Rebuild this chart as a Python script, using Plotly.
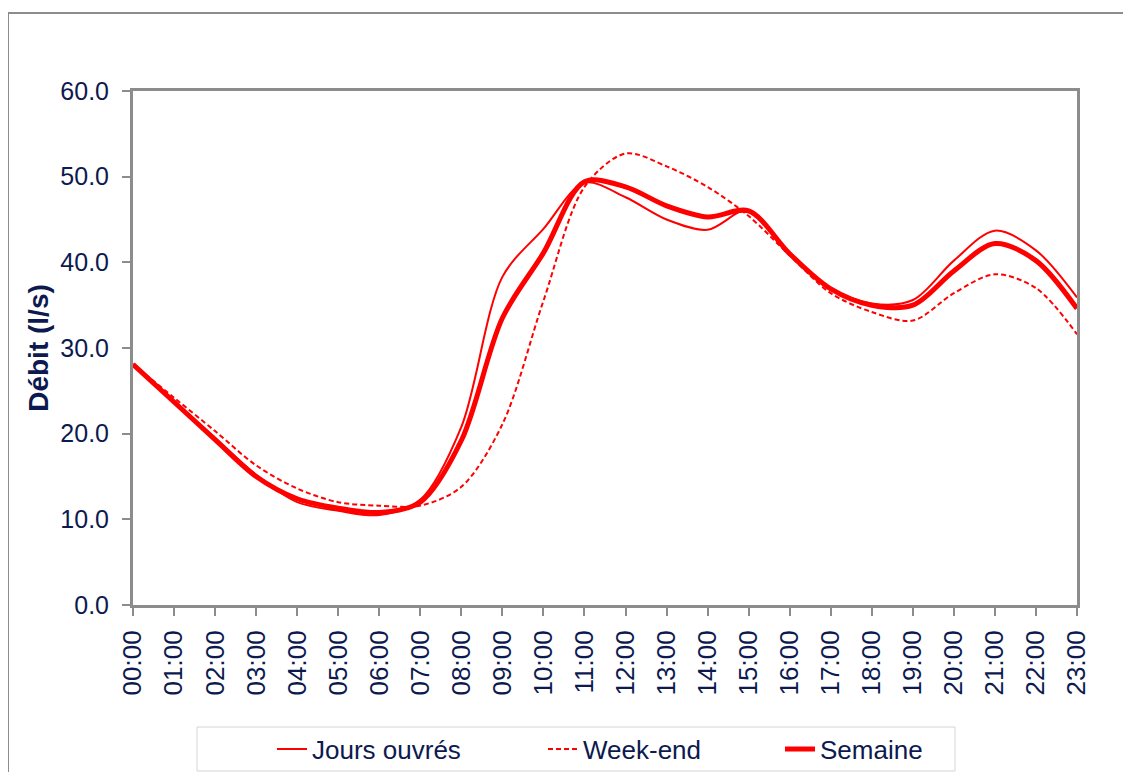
import plotly.graph_objects as go

hours = ["00:00", "01:00", "02:00", "03:00", "04:00", "05:00", "06:00", "07:00",
         "08:00", "09:00", "10:00", "11:00", "12:00", "13:00", "14:00", "15:00",
         "16:00", "17:00", "18:00", "19:00", "20:00", "21:00", "22:00", "23:00"]

jours_ouvres = [28.1, 23.8, 19.5, 15.2, 12.0, 11.0, 10.5, 12.3, 20.8, 38.3, 43.9, 49.3,
                47.6, 45.0, 43.8, 46.1, 41.0, 37.0, 35.2, 35.6, 40.2, 43.7, 41.4, 35.9]
week_end = [28.1, 24.2, 20.3, 16.3, 13.6, 12.0, 11.6, 11.6, 13.8, 21.1, 35.5, 48.8,
            52.7, 51.2, 48.8, 45.4, 40.8, 36.4, 34.2, 33.2, 36.4, 38.6, 37.0, 31.6]
semaine = [28.1, 23.7, 19.3, 15.0, 12.4, 11.3, 10.8, 12.0, 19.2, 33.5, 41.1, 49.4,
           48.8, 46.6, 45.3, 46.0, 41.0, 36.9, 35.0, 35.0, 39.0, 42.2, 40.2, 34.6]

RED = "#FF0000"
NAVY = "#0C1A4F"
GRAY = "#8C8C8C"
FONT = "Liberation Sans, Arial, sans-serif"

# page body has an 8px margin: work in page pixels, subtract offset,
# and keep the figure inside the 1131x780 viewport
OFF = 8
W, H = 1131 - 2 * OFF, 780 - 2 * OFF
L, R, T, B = 133 - OFF, 1077 - OFF, 91 - OFF, 605 - OFF
pw, ph = R - L, B - T


def px_x(v):
    return (v - OFF - L) / pw


def px_y(v):
    return (B - (v - OFF)) / ph


fig = go.Figure()
fig.add_trace(go.Scatter(x=hours, y=jours_ouvres, name="Jours ouvrés", mode="lines",
                         legend="legend",
                         line=dict(color=RED, width=2, shape="spline", smoothing=0.9)))
fig.add_trace(go.Scatter(x=hours, y=week_end, name="Week-end", mode="lines",
                         legend="legend2",
                         line=dict(color=RED, width=2, dash="5px,3px", shape="spline",
                                   smoothing=0.9)))
fig.add_trace(go.Scatter(x=hours, y=semaine, name="Semaine", mode="lines",
                         legend="legend3",
                         line=dict(color=RED, width=5, shape="spline", smoothing=0.9)))

leg_common = dict(orientation="h", yanchor="middle", y=px_y(749), xanchor="left",
                  bgcolor="rgba(0,0,0,0)", borderwidth=0,
                  font=dict(size=26, color=NAVY, family=FONT))

fig.update_layout(
    width=W, height=H,
    margin=dict(l=L, r=W - R, t=T, b=H - B, pad=0, autoexpand=False),
    paper_bgcolor="white", plot_bgcolor="white",
    font=dict(family=FONT, color=NAVY, size=24),
    showlegend=True,
    legend=dict(x=px_x(272), **leg_common),
    legend2=dict(x=px_x(543), **leg_common),
    legend3=dict(x=px_x(780), **leg_common),
    shapes=[
        dict(type="rect", xref="paper", yref="paper",
             x0=px_x(8), x1=px_x(1145), y0=px_y(800), y1=px_y(13),
             line=dict(color=GRAY, width=2), layer="below"),
        dict(type="rect", xref="paper", yref="paper",
             x0=px_x(197), x1=px_x(955), y0=px_y(771), y1=px_y(727),
             line=dict(color="#D4D4D4", width=1), layer="below"),
    ],
)

fig.update_xaxes(type="category", range=[0, 23], showline=True, linecolor=GRAY, linewidth=3,
                 mirror=True, ticks="outside", ticklen=8, tickwidth=2, tickcolor=GRAY,
                 tickangle=-90, showgrid=False, zeroline=False, ticklabelstandoff=4,
                 automargin=False,
                 tickfont=dict(size=26, color=NAVY, family=FONT))
fig.update_yaxes(range=[0, 60], dtick=10, tickformat=".1f", showline=True, linecolor=GRAY,
                 linewidth=3, mirror=True, ticks="outside", ticklen=8, tickwidth=2,
                 tickcolor=GRAY, showgrid=False, zeroline=False, ticklabelstandoff=8,
                 automargin=False,
                 tickfont=dict(size=25, color=NAVY, family=FONT),
                 title=dict(text="<b>Débit (l/s)</b>", standoff=4,
                            font=dict(size=28, color=NAVY, family=FONT)))

fig.write_html("out.html")
